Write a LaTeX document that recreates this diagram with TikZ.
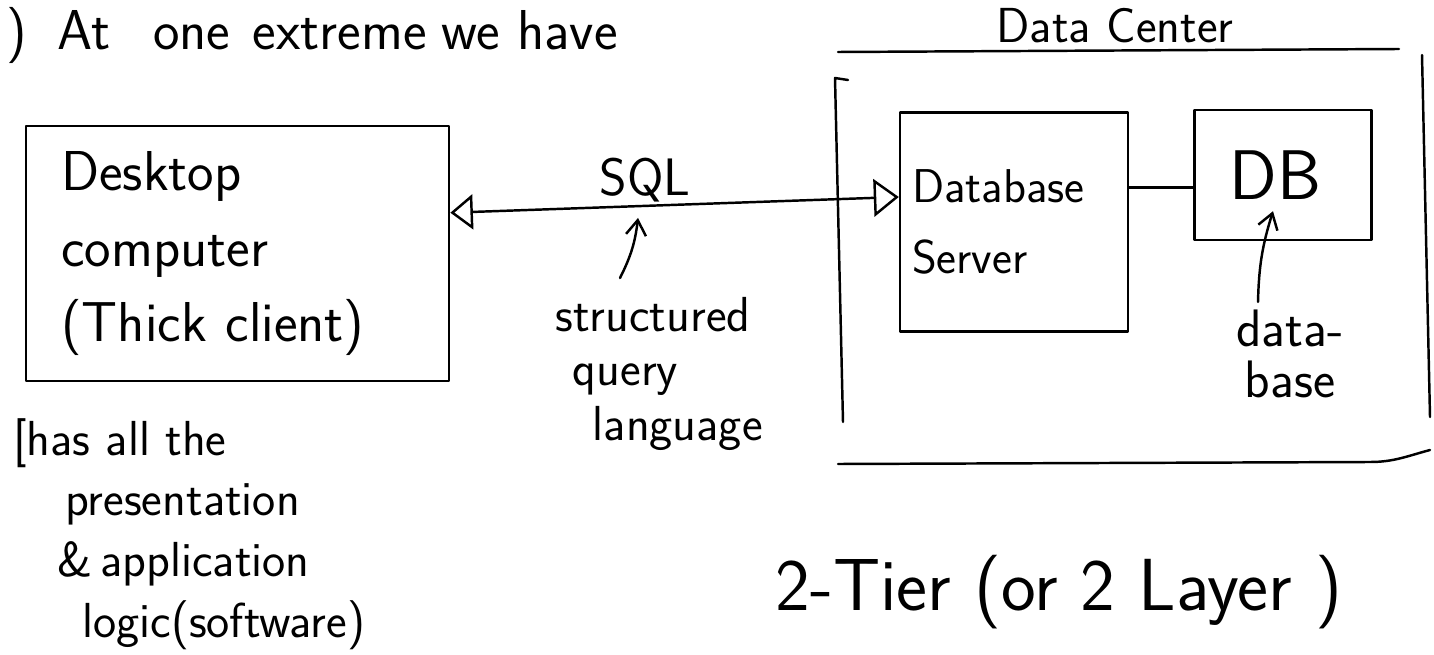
\documentclass[tikz,border=0pt]{standalone}
\usepackage{tikz}
\usetikzlibrary{arrows.meta,calc}

\begin{document}
\begin{tikzpicture}[x=0.02cm,y=-0.02cm]

\def\pagew{1434}
\def\pageh{655}
\def\ink{1.4pt}

% Styles
\tikzstyle{pen}=[line width=\ink, line cap=round, line join=round]
\tikzstyle{box}=[draw, pen, rectangle, inner ysep=0pt, align=left]
\tikzstyle{script}=[inner sep=0pt, align=left]
\tikzstyle{both heads}=[pen, {Triangle[open,length=0.45cm,width=0.7cm]}-{Triangle[open,length=0.5cm,width=0.75cm]}]
\tikzstyle{pointer}=[pen, -{Straight Barb[length=0.3cm,width=0.4cm]}]

\useasboundingbox (0,0) rectangle (\pagew,\pageh);

% Heading
\node[script, anchor=base west, font=\sffamily\fontsize{32}{38}\selectfont] (heading) at (6,50)
  {)\hspace{0.62cm}At\hspace{0.85cm}one\hspace{0.45cm}extreme\hspace{0.3cm}we\hspace{0.35cm}have};

% Data center frame
\node[script, anchor=base, font=\sffamily\fontsize{28}{34}\selectfont] (dclabel) at (1115,43) {Data Center};
\draw[pen] (838,52) -- (1399,49);
\draw[pen] (848,80) -- (835,78) -- (843,422);
\draw[pen] (1422,55) -- (1430,417);
\draw[pen] (838,464) -- (1370,462) to[out=0,in=195] (1430,450);

% Thick client
\node[box, anchor=north west, minimum height=5.1cm, text width=7.06cm, inner xsep=0.7cm, font=\sffamily\fontsize{32}{43}\selectfont] (desktop) at (25,125) {Desktop\\computer\\(Thick client)};

% Server and database
\node[box, minimum height=4.38cm, text width=4.08cm, inner xsep=0.24cm, font=\sffamily\fontsize{27}{40}\selectfont] (server) at (1014,222) {Database\\Server};
\node[box, minimum width=3.54cm, minimum height=2.6cm, font=\sffamily\fontsize{40}{48}\selectfont] (db) at (1283,175) {DB\hspace*{0.3cm}};
\draw[pen] ([yshift=-0.25cm]db.west) -- ([yshift=-0.25cm]db.west -| server.east);

% SQL link
\draw[both heads] ([yshift=0.82cm]desktop.east) -- ([yshift=0.5cm]server.west);
\node[script, anchor=base, font=\sffamily\fontsize{30}{36}\selectfont] (sql) at (645,196) {SQL};

% Notes
\node[script, anchor=north west, font=\sffamily\fontsize{28}{31}\selectfont] (sqlnote) at (555,297) {structured\\\hspace*{0.35cm}query\\\hspace*{0.75cm}language};
\draw[pointer] ($(sqlnote.north west)+(65,-19)$) to[bend right=10] ($(sql.south)+(-7,15)$);

\node[script, align=center, anchor=north, font=\sffamily\fontsize{30}{29}\selectfont] (dbnote) at (1290,310) {data-\\base};
\draw[pointer] ($(dbnote.north)+(-32,-8)$) to[bend left=8] ($(db.south)+(-10,-30)$);

\node[script, anchor=north west, font=\sffamily\fontsize{28}{34.5}\selectfont] (thicknote) at (13,418) {[has all the\\\hspace*{1.04cm}presentation\\\hspace*{0.88cm}\&\,application\\\hspace*{1.38cm}logic(software)};

% Tiers
\node[script, anchor=base west, font=\sffamily\fontsize{42}{48}\selectfont] (tiers) at (775,610) {2-Tier (or 2 Layer )};

\end{tikzpicture}
\end{document}
